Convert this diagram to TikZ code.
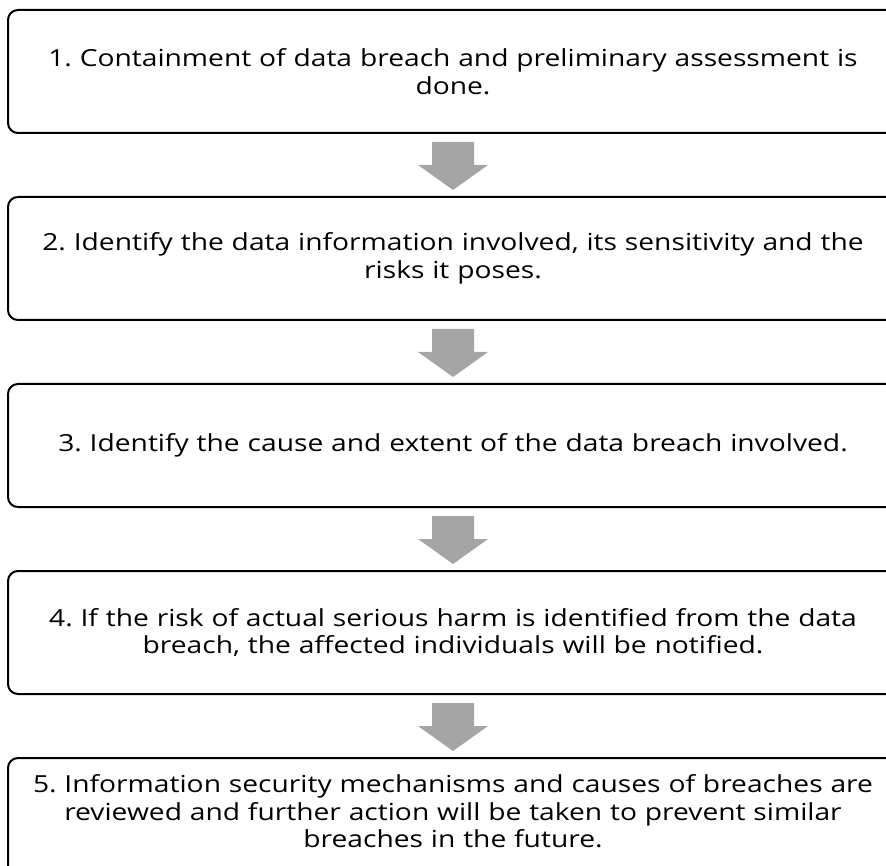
\documentclass[tikz,border=0pt]{standalone}
\usepackage{fontspec}
\setmainfont[FakeStretch=1.2]{Open Sans}
\usetikzlibrary{positioning,calc}

\definecolor{arrowgray}{RGB}{165 165 165}

\tikzset{
	stepbox/.style={draw=black, line width=2pt, rounded corners=10pt,
		minimum width=890pt, minimum height=123pt, text width=870pt,
		align=center, font=\fontsize{23.5}{27.5}\selectfont\frenchspacing, inner sep=0pt}
}

\begin{document}
\begin{tikzpicture}[x=1pt, y=1pt]

	% \blockarrow#from#to
	\def\blockarrow#1#2{
		\fill[arrowgray] ($(#1.south)+(-21,-8)$) -- ++(42,0) -- ++(0,-23) -- ++(14,0)
			-- ($(#2.north)+(0,6)$) -- ($(#1.south)+(-35,-31)$) -- ++(14,0) -- cycle;
	}

	\useasboundingbox (0,0) rectangle (886,-866);

	% steps
	\node[stepbox] (contain) at (453,-71.5) {1. Containment of data breach and preliminary assessment is\\done.};
	\node[stepbox, below=62pt of contain] (identify) {2. Identify the data information involved, its sensitivity and the\\risks it poses.};
	\node[stepbox, below=62pt of identify] (cause) {3. Identify the cause and extent of the data breach involved.};
	\node[stepbox, below=62pt of cause] (notify) {4. If the risk of actual serious harm is identified from the data\\breach, the affected individuals will be notified.};
	\node[stepbox, below=62pt of notify, text depth=71pt] (review) {5. Information security mechanisms and causes of breaches are\\reviewed and further action will be taken to prevent similar\\breaches in the future.};

	% arrows
	\blockarrow{contain}{identify}
	\blockarrow{identify}{cause}
	\blockarrow{cause}{notify}
	\blockarrow{notify}{review}
\end{tikzpicture}
\end{document}
